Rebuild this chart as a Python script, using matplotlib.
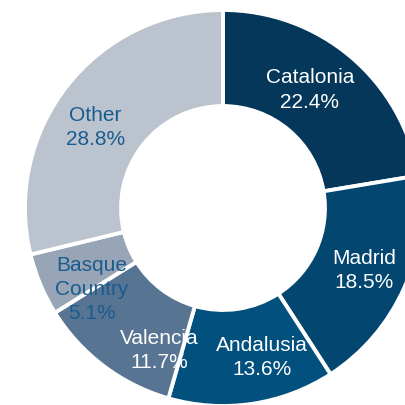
import numpy as np
import matplotlib
matplotlib.use("Agg")
import matplotlib.pyplot as plt

# Share of total by region (%), clockwise from 12 o'clock
regions = ["Catalonia", "Madrid", "Andalusia", "Valencia", "Basque\nCountry", "Other"]
shares = [22.4, 18.5, 13.6, 11.7, 5.1, 28.8]

colors = ["#04375a", "#03466f", "#02507e", "#587493", "#97a5b6", "#bac3ce"]
text_colors = ["white", "white", "white", "white", "#1a5c8e", "#1a5c8e"]
# small nudges of the label angle (deg) and radius to sit like the original
label_shift = [-4, 0, -6, -13, -9, -6]
label_radius = [0.74, 0.78, 0.78, 0.79, 0.78, 0.76]

plt.rcParams["font.family"] = ["Liberation Sans", "DejaVu Sans"]

fig = plt.figure(figsize=(4.05, 4.05), dpi=100)
ax = fig.add_axes([0, 0, 1, 1])

wedges, _ = ax.pie(shares, colors=colors, startangle=90, counterclock=False,
                   radius=1.0, wedgeprops=dict(width=0.485, edgecolor="white", linewidth=2.8))

for w, name, val, tc, shift, rr in zip(wedges, regions, shares, text_colors, label_shift, label_radius):
    ang = np.deg2rad((w.theta1 + w.theta2) / 2 - shift)
    ax.text(rr * np.cos(ang), rr * np.sin(ang), f"{name}\n{val:.1f}%",
            ha="center", va="center", color=tc, fontsize=15, linespacing=1.35)

# centre of the ring sits at (223, 208) px, radius 198 px
scale = 198.0
ax.set_xlim(-223 / scale, (405 - 223) / scale)
ax.set_ylim(-(405 - 208) / scale, 208 / scale)
ax.set_aspect("equal")
ax.axis("off")

fig.savefig("out.png", dpi=100)
